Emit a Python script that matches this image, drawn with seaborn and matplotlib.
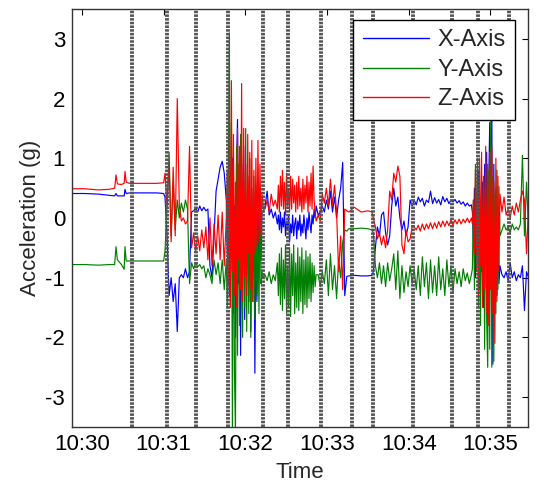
import numpy as np
import pandas as pd
import matplotlib
matplotlib.use("Agg")
import matplotlib.pyplot as plt
import matplotlib.dates as mdates
import seaborn as sns

# sample times, seconds after 10:30:00
t_sec = [
    # quiet start
    -7.3, 2.0, 12.0, 20.0, 24.0, 25.0, 26.0, 29.0, 31.0, 31.6, 32.5, 35.0, 45.0, 55.0, 60.0,
    # first movement
    61.0, 62.5, 64.0, 65.5, 67.0, 68.5, 70.0, 71.5, 73.0, 74.5,
    76.0, 77.5, 79.0, 80.5, 82.0, 83.5, 85.0, 86.5, 88.0, 89.5,
    91.0, 92.5, 94.0, 95.5, 97.0, 98.5, 100.0, 101.5, 103.0, 104.5,
    # burst around 10:31:50
    106.0, 106.75, 107.5, 108.25, 109.0, 109.75, 110.5, 111.25, 112.0, 112.75,
    113.5, 114.25, 115.0, 115.75, 116.5, 117.25, 118.0, 118.75, 119.5, 120.25,
    121.0, 121.75, 122.5, 123.25, 124.0, 124.75, 125.5, 126.25, 127.0, 127.75,
    128.5, 129.25, 130.0, 130.75, 131.5, 132.25,
    133.0, 134.5, 136.0, 137.5, 139.0, 140.5, 142.0,
    # vibration block around 10:32:30
    143.5, 144.25, 145.0, 145.75, 146.5, 147.25, 148.0, 148.75, 149.5, 150.25,
    151.0, 151.75, 152.5, 153.25, 154.0, 154.75, 155.5, 156.25, 157.0, 157.75,
    158.5, 159.25, 160.0, 160.75, 161.5, 162.25, 163.0, 163.75, 164.5, 165.25,
    166.0, 166.75, 167.5, 168.25, 169.0, 169.75, 170.5, 171.25, 172.0,
    173.5, 175.0, 176.5, 178.0, 179.5, 181.0, 182.5, 184.0, 185.5, 187.0,
    188.5, 190.0, 191.5, 193.0,
    # quiet middle
    194.5, 196.0, 200.0, 205.0, 210.0, 213.0,
    # second movement
    214.0, 215.5, 217.0, 218.5, 220.0, 221.5, 223.0, 224.5, 226.0, 227.5,
    229.0, 230.5, 232.0, 233.5, 235.0, 236.5, 238.0, 239.5, 241.0, 242.5,
    244.0, 245.5, 247.0, 248.5, 250.0, 251.5, 253.0, 254.5, 256.0, 257.5,
    259.0, 260.5, 262.0, 263.5, 265.0, 266.5, 268.0, 269.5, 271.0, 272.5,
    274.0, 275.5, 277.0, 278.5, 280.0, 281.5, 283.0, 284.5,
    # burst around 10:34:50
    286.0, 286.75, 287.5, 288.25, 289.0, 289.75, 290.5, 291.25, 292.0, 292.75,
    293.5, 294.25, 295.0, 295.75, 296.5, 297.25, 298.0, 298.75, 299.5, 300.25,
    301.0, 301.75, 302.5, 303.25, 304.0, 304.75, 305.5, 306.25, 307.0,
    308.5, 310.0, 311.5, 313.0, 314.5, 316.0, 317.5, 319.0, 320.5, 322.0,
    323.5, 325.0, 326.5, 328.0,
]

x_axis = [
    0.41, 0.41, 0.40, 0.38, 0.37, 0.41, 0.37, 0.37, 0.37, 0.48, 0.41, 0.42, 0.42, 0.42, 0.41,
    0.35, -0.3, -1.3, -1.0, -1.4, -1.1, -1.9, -1.0, -0.95, -1.0,
    -0.85, -1.0, -0.9, 0.1, 0.12, 0.16, 0.1, 0.2, 0.12, 0.18,
    0.12, 0.15, -0.8, -1.0, -0.3, 0.45, 0.65, 0.85, 0.95, 0.75,
    0.3, -0.6, 0.4, -1.3, 0.7, -0.5, 1.0, -1.6, 0.2, -2.0,
    0.9, 1.65, -1.1, 0.5, -2.3, 0.9, -0.8, 1.2, -1.7, 0.4,
    -0.6, 0.7, -1.4, 0.3, -1.9, 0.5, -0.9, 0.2, -2.6, -0.3,
    -1.4, 0.3, -1.0, 0.1, -0.7, 0.1,
    0.1, 0.2, 0.45, 0.05, 0.15, 0.0, 0.1,
    -0.1, 0.05, -0.2, 0.1, -0.25, 0.0, -0.15, 0.1, -0.3, -0.05,
    -0.2, 0.05, -0.4, -0.1, -0.25, 0.05, -0.3, -0.1, 0.0, -0.35,
    -0.05, -0.2, 0.05, -0.3, -0.1, -0.25, 0.05, -0.15, -0.35, 0.0,
    -0.2, 0.1, -0.1, -0.25, 0.05, -0.1, 0.15, 0.0, 0.2,
    0.05, 0.1, 0.2, 0.1, 0.3, 0.15, 0.45, 0.1, 0.35, 0.0,
    0.3, 0.5, 0.93, -1.3,
    -0.98, -0.97, -0.96, -0.97, -0.97, -0.96,
    -0.9, -0.5, -0.15, -0.3, 0.05, 0.1, -0.25, -0.45, -0.3, 0.2,
    0.5, 0.2, 0.35, 0.0, -0.2, -0.05, -0.3, -0.15, 0.3, 0.2,
    0.3, 0.22, 0.35, 0.27, 0.33, 0.2, 0.3, 0.26, 0.45, 0.24,
    0.34, 0.25, 0.31, 0.22, 0.36, 0.27, 0.33, 0.24, 0.3, 0.27,
    0.31, 0.25, 0.29, 0.23, 0.27, 0.2, 0.25, 0.2,
    0.22, 0.1, -0.4, 0.5, -1.0, 0.3, -0.6, 0.8, -1.2, 0.2,
    -0.9, 0.6, -1.5, 0.9, -0.7, 1.1, -1.8, 0.6, 1.6, -1.2,
    2.0, -2.45, 0.9, -1.6, 0.5, -1.3, 0.2, -1.1, -0.8,
    -0.95, -1.0, -0.9, -1.05, -0.75, -1.0, -0.9, -1.05, -0.95, -1.0,
    -0.8, -1.55, -0.9, -1.0,
]

y_axis = [
    -0.78, -0.78, -0.79, -0.78, -0.78, -0.48, -0.70, -0.78, -0.86, -0.48, -0.72, -0.72, -0.72, -0.72, -0.72,
    -0.55, 0.2, 1.1, -0.3, 0.6, -0.2, 0.3, 0.0, 0.25, 0.1,
    0.3, 0.15, -1.1, -0.75, -0.85, -0.75, -0.82, -0.78, -0.85, -0.8,
    -1.0, -0.85, -0.95, -1.1, -0.7, -0.95, -0.75, -1.1, -0.7, -1.2,
    -0.7, -1.5, 0.8, 3.1, -1.2, 1.6, -3.6, 1.0, -2.6, -3.6,
    1.2, -2.3, 0.9, -1.8, 1.4, -1.2, -2.0, 0.8, -1.5, 1.5,
    -1.9, 0.6, -1.6, 1.0, -2.0, 0.4, -1.4, 0.7, -1.7, 0.5,
    -1.3, -0.2, -1.6, 0.3, -1.1, -0.9,
    -1.0, -0.95, -1.05, -0.9, -1.1, -0.95, -1.05,
    -0.75, -1.3, -0.6, -1.45, -0.5, -1.55, -0.7, -1.35, -0.45, -1.6,
    -0.8, -1.5, -0.5, -1.65, -0.6, -1.3, -0.45, -1.6, -0.75, -1.5,
    -0.5, -1.55, -0.65, -1.4, -0.5, -1.6, -0.7, -1.45, -0.55, -1.5,
    -0.65, -1.35, -0.6, -1.4, -0.75, -1.25, -0.8, -1.15, -0.95,
    -0.95, -1.15, -0.9, -1.1, -0.7, -1.3, -0.6, -1.2, -0.8, -1.35,
    -0.7, -1.0, -0.4, -0.2,
    -0.22, -0.18, -0.18, -0.17, -0.18, -0.2,
    -0.25, -0.8, -1.0, -0.75, -1.1, -0.8, -1.15, -0.75, -1.05, -0.85,
    -0.6, -1.2, -0.55, -1.35, -0.8, -1.25, -0.9, -1.15, -0.8, -1.1,
    -0.85, -1.2, -0.8, -1.3, -0.65, -1.15, -0.75, -1.35, -0.7, -1.25,
    -0.8, -1.3, -0.65, -1.2, -0.85, -1.3, -0.7, -1.15, -0.8, -1.25,
    -0.85, -1.1, -0.9, -1.15, -0.85, -1.05, -0.92, -1.1,
    -0.95, -0.85, 0.3, -1.2, 0.9, -0.8, 1.0, -1.5, 0.4, -1.8,
    0.7, -1.3, 0.6, -2.2, 0.95, -1.7, -2.5, 0.8, -2.2, 1.9,
    -2.5, 0.7, -2.4, 0.4, -1.6, 0.8, -1.2, 0.53, -0.3,
    -0.2, -0.1, -0.2, -0.15, -0.25, -0.1, -0.2, -0.15, -0.2, -0.1,
    1.05, -0.3, 0.6, -0.2,
]

z_axis = [
    0.49, 0.49, 0.47, 0.48, 0.50, 0.72, 0.57, 0.56, 0.58, 0.78, 0.60, 0.58, 0.58, 0.58, 0.59,
    0.75, 0.2, 0.9, -0.4, 0.85, -0.3, 2.0, 0.2, -0.05, 0.0,
    -0.1, -0.05, 1.2, -0.5, -0.25, -0.55, -0.3, -0.55, -0.2, -0.5,
    -0.15, -0.7, 0.0, -0.8, -0.1, -0.6, 0.05, -0.7, 0.1, -0.8,
    0.0, 0.8, -1.1, 1.3, -1.5, 2.3, -0.9, 1.4, -1.3, 0.6,
    -1.5, 1.5, -0.7, 1.2, -1.2, 2.25, -1.4, 1.5, -1.0, 0.9,
    -1.3, 1.4, -0.6, 1.1, -1.2, 1.3, -1.4, 0.8, -0.6, 1.0,
    -0.5, 1.3, -0.4, 0.9, -0.3, 0.4,
    0.2, 0.15, 0.3, 0.1, 0.4, 0.2, 0.3,
    0.15, 0.55, 0.1, 0.7, 0.2, 0.8, 0.15, 0.6, 0.05, 0.75,
    0.2, 0.5, 0.1, 0.7, 0.15, 0.65, 0.25, 0.55, 0.1, 0.6,
    0.15, 0.7, 0.2, 0.5, 0.1, 0.65, 0.15, 0.55, 0.25, 0.7,
    0.1, 0.6, 0.2, 0.75, 0.15, 0.87, 0.3, 0.1, -0.05,
    0.05, -0.05, 0.4, 0.25, 0.5, 0.2, 0.65, 0.2, 0.55, 0.1,
    -0.9, -0.3, -1.2, 0.15,
    0.12, 0.1, 0.18, 0.1, 0.12, 0.1,
    0.0, -0.15, -0.35, -0.25, -0.45, -0.3, -0.5, -0.2, 0.45, 0.3,
    0.75, 0.6, 0.87, 0.7, -0.45, -0.6, -0.2, -0.4, -0.35, -0.15,
    -0.15, -0.2, -0.12, -0.22, -0.1, -0.2, -0.1, -0.18, -0.08, -0.18,
    -0.08, -0.17, -0.06, -0.15, -0.05, -0.14, -0.05, -0.13, -0.03, -0.12,
    -0.03, -0.1, -0.02, -0.1, -0.02, -0.08, 0.0, -0.08,
    0.0, -0.1, 0.3, -0.6, 0.8, -0.9, 0.5, -1.3, 1.0, -0.8,
    1.1, -1.5, 0.7, -1.2, 1.2, -1.6, 0.9, -1.8, 1.1, -1.2,
    1.2, -1.6, 0.6, -2.1, 1.0, -1.4, 0.7, -0.9, 0.4,
    0.1, 0.35, 0.05, 0.15, 0.0, 0.2, 0.05, 0.25, 0.1, 0.3,
    0.45, 0.3, -0.6, 0.2,
]

# event markers, seconds after 10:30:00
event_sec = [36.7, 62.4, 83.7, 107.2, 132.9, 151.3, 175.5, 198.3, 213.7,
             243.1, 271.7, 290.8, 313.6]

series_names = ["X-Axis", "Y-Axis", "Z-Axis"]
series_colors = ["#0000ff", "#008000", "#ff0000"]
y_ticks = [-3, -2, -1, 0, 1, 2, 3]

assert len(t_sec) == len(x_axis) == len(y_axis) == len(z_axis)

start = pd.Timestamp("2015-01-01 10:30:00")
df = pd.DataFrame({
    "Time": start + pd.to_timedelta(t_sec, unit="s"),
    "X-Axis": x_axis,
    "Y-Axis": y_axis,
    "Z-Axis": z_axis,
})
long_df = df.melt(id_vars="Time", var_name="Axis", value_name="Acceleration")

sns.set_theme(style="white")
plt.rcParams["font.family"] = ["Liberation Sans", "DejaVu Sans"]
plt.rcParams["axes.unicode_minus"] = False

fig = plt.figure(figsize=(5.44, 4.88), dpi=100)
ax = fig.add_axes([0.1324, 0.125, 0.8382, 0.8566])

sns.lineplot(data=long_df, x="Time", y="Acceleration", hue="Axis",
             hue_order=series_names,
             palette=dict(zip(series_names, series_colors)),
             estimator=None, sort=False, linewidth=0.85, ax=ax)

# event markers on top of the traces
for s in event_sec:
    ax.axvline(start + pd.Timedelta(seconds=s), color="#555555", lw=2.8,
               ls=(0, (0.65, 0.3)), zorder=3)

ax.set_xlim(start + pd.Timedelta(seconds=-7.3), start + pd.Timedelta(seconds=327.6))
ax.set_ylim(-3.5, 3.5)
ax.set_yticks(y_ticks)
ax.xaxis.set_major_locator(mdates.MinuteLocator())
ax.xaxis.set_major_formatter(mdates.DateFormatter("%H:%M"))
ax.tick_params(direction="in", top=True, right=True, length=4, width=0.8,
               labelsize=16, colors="black", pad=5)
ax.set_xlabel("Time", fontsize=16, labelpad=5)
ax.set_ylabel("Acceleration (g)", fontsize=16, labelpad=3)
for sp in ax.spines.values():
    sp.set_color("#333333")
    sp.set_linewidth(1.0)

old = ax.get_legend()
handles = old.legend_handles
labels = [t.get_text() for t in old.get_texts()]
leg = ax.legend(handles, labels, loc="upper right", bbox_to_anchor=(0.971, 0.974),
                borderaxespad=0, fontsize=17, frameon=True, fancybox=False,
                edgecolor="black", framealpha=1, handlelength=2.8,
                handletextpad=0.35, labelspacing=0.32, borderpad=0.4)
leg.set_zorder(10)
leg.get_frame().set_linewidth(1.0)
for h in leg.legend_handles:
    h.set_linewidth(1.0)

fig.savefig("out.png", dpi=100)
plt.close(fig)
